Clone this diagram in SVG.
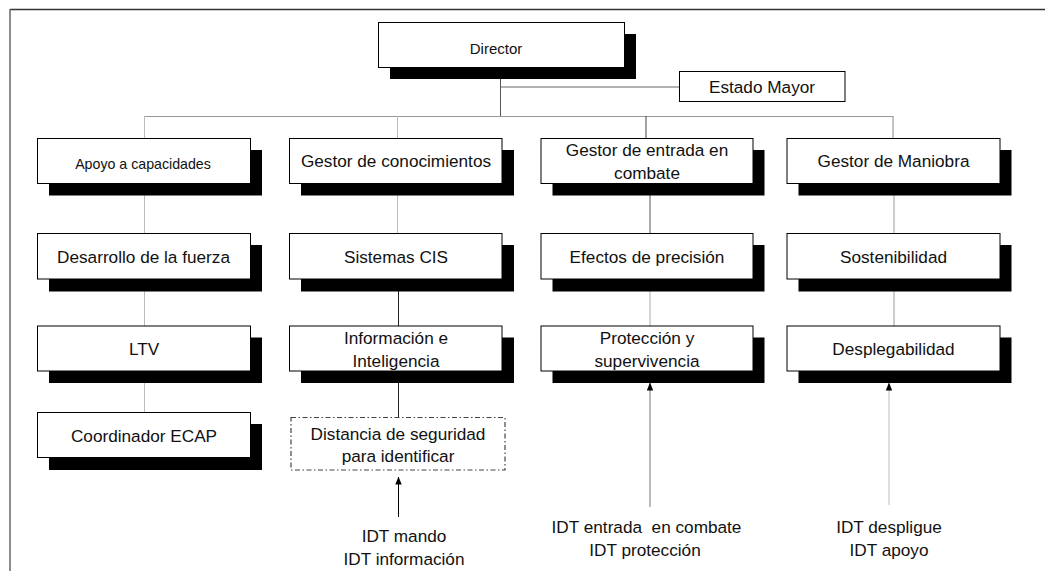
<svg xmlns="http://www.w3.org/2000/svg" width="1045" height="571" viewBox="0 0 1045 571">
<defs>
<style>
.box{fill:#fff;stroke:#000;stroke-width:1}
.sh{fill:#000}
.t{font-family:"Liberation Sans",Arial,sans-serif;font-size:17.2px;fill:#111;text-anchor:middle}
.ts{font-size:14.2px}
.c{fill:none;stroke-width:1}
</style>
<marker id="ah" viewBox="0 0 8 8" refX="7.5" refY="4" markerWidth="8" markerHeight="8" markerUnits="userSpaceOnUse" orient="auto">
<path d="M0,0.8 L8,4 L0,7.2 Z" fill="#000"/>
</marker>
</defs>
<rect width="1045" height="571" fill="#fff"/>
<g id="frame">
<line x1="10" y1="9.5" x2="1045" y2="9.5" stroke="#333" stroke-width="1.3"/>
<line x1="10" y1="9" x2="10" y2="571" stroke="#666" stroke-width="1.5"/>
</g>
<g id="connectors">
<line class="c" x1="500.5" y1="68" x2="500.5" y2="116" stroke="#555"/>
<line class="c" x1="500.5" y1="87" x2="680" y2="87" stroke="#666"/>
<line class="c" x1="144" y1="116.5" x2="893" y2="116.5" stroke="#999"/>
<line class="c" x1="144.5" y1="116" x2="144.5" y2="139" stroke="#bbb"/>
<line class="c" x1="397.5" y1="116" x2="397.5" y2="139" stroke="#bbb"/>
<line class="c" x1="646" y1="116" x2="646" y2="139" stroke="#444"/>
<line class="c" x1="893" y1="116" x2="893" y2="139" stroke="#888"/>
<line class="c" x1="144.5" y1="184" x2="144.5" y2="413" stroke="#bbb"/>
<line class="c" x1="397.5" y1="184" x2="397.5" y2="234" stroke="#bbb"/>
<line class="c" x1="398.5" y1="279" x2="398.5" y2="418" stroke="#222"/>
<line class="c" x1="650" y1="184" x2="650" y2="234" stroke="#555"/>
<line class="c" x1="650" y1="279" x2="650" y2="326" stroke="#aaa"/>
<line class="c" x1="894" y1="184" x2="894" y2="326" stroke="#999"/>
<line class="c" x1="398.5" y1="517" x2="398.5" y2="477" stroke="#000" marker-end="url(#ah)"/>
<line class="c" x1="650" y1="507" x2="650" y2="383" stroke="#777" stroke-width="1.3" marker-end="url(#ah)"/>
<line class="c" x1="889" y1="505" x2="889" y2="383" stroke="#bbb" stroke-width="1.3" marker-end="url(#ah)"/>
</g>
<g id="director">
<rect class="sh" x="390" y="34" width="246" height="45"/>
<rect class="box" x="378.5" y="22.5" width="246" height="45"/>
<text class="t ts" x="496" y="54" style="font-size:15px">Director</text>
</g>
<g id="estado-mayor">
<rect class="box" x="679.5" y="71.5" width="165.5" height="30"/>
<text class="t" x="762" y="92.5">Estado Mayor</text>
</g>
<g id="apoyo">
<rect class="sh" x="49" y="150" width="213" height="45.5"/>
<rect class="box" x="37.5" y="138.5" width="213" height="45"/>
<text class="t ts" x="143" y="169">Apoyo a capacidades</text>
</g>
<g id="gestor-conocimientos">
<rect class="sh" x="301" y="150" width="213" height="45.5"/>
<rect class="box" x="289.5" y="138.5" width="212.5" height="45"/>
<text class="t" x="396" y="167">Gestor de conocimientos</text>
</g>
<g id="gestor-entrada">
<rect class="sh" x="552.5" y="150" width="212" height="45.5"/>
<rect class="box" x="541" y="138.5" width="212" height="45"/>
<text class="t" x="647" y="156">Gestor de entrada en</text>
<text class="t" x="647" y="179">combate</text>
</g>
<g id="gestor-maniobra">
<rect class="sh" x="798.5" y="150" width="213" height="45.5"/>
<rect class="box" x="787" y="138.5" width="213" height="45"/>
<text class="t" x="893.5" y="167">Gestor de Maniobra</text>
</g>
<g id="desarrollo">
<rect class="sh" x="49" y="245" width="213" height="46.5"/>
<rect class="box" x="37.5" y="233.5" width="213" height="45.5"/>
<text class="t" x="143.5" y="263">Desarrollo de la fuerza</text>
</g>
<g id="sistemas-cis">
<rect class="sh" x="301" y="245" width="213" height="46.5"/>
<rect class="box" x="289.5" y="233.5" width="212.5" height="45.5"/>
<text class="t" x="396" y="263">Sistemas CIS</text>
</g>
<g id="efectos">
<rect class="sh" x="552.5" y="245" width="212" height="46.5"/>
<rect class="box" x="541" y="233.5" width="212" height="45.5"/>
<text class="t" x="647" y="263">Efectos de precisión</text>
</g>
<g id="sostenibilidad">
<rect class="sh" x="798.5" y="245" width="213" height="46.5"/>
<rect class="box" x="787" y="233.5" width="213" height="45.5"/>
<text class="t" x="893.5" y="263">Sostenibilidad</text>
</g>
<g id="ltv">
<rect class="sh" x="49" y="337.5" width="213" height="45.5"/>
<rect class="box" x="37.5" y="326" width="213" height="45"/>
<text class="t" x="144" y="355">LTV</text>
</g>
<g id="informacion">
<rect class="sh" x="301" y="337.5" width="213" height="45.5"/>
<rect class="box" x="289.5" y="326" width="212.5" height="45"/>
<text class="t" x="396" y="343.5">Información e</text>
<text class="t" x="396" y="367">Inteligencia</text>
</g>
<g id="proteccion">
<rect class="sh" x="552.5" y="337.5" width="212" height="45.5"/>
<rect class="box" x="541" y="326" width="212" height="45"/>
<text class="t" x="647" y="343.5">Protección y</text>
<text class="t" x="647" y="366.5">supervivencia</text>
</g>
<g id="desplegabilidad">
<rect class="sh" x="798.5" y="337.5" width="213" height="45.5"/>
<rect class="box" x="787" y="326" width="213" height="45"/>
<text class="t" x="893.5" y="355">Desplegabilidad</text>
</g>
<g id="coordinador">
<rect class="sh" x="49" y="424" width="213" height="46"/>
<rect class="box" x="37.5" y="412.5" width="213" height="45"/>
<text class="t" x="144" y="441.5">Coordinador ECAP</text>
</g>
<g id="distancia">
<rect x="291" y="417.5" width="214" height="52.5" fill="#fff" stroke="#444" stroke-width="1.2" stroke-dasharray="5 2.5 1.5 2.5"/>
<text class="t" x="398" y="439.5">Distancia de seguridad</text>
<text class="t" x="398" y="461.5">para identificar</text>
</g>
<g id="label-mando">
<text class="t" x="404" y="541.5">IDT mando</text>
<text class="t" x="404" y="565">IDT información</text>
</g>
<g id="label-entrada">
<text class="t" x="646.5" y="533" xml:space="preserve">IDT entrada  en combate</text>
<text class="t" x="645" y="556">IDT protección</text>
</g>
<g id="label-despliegue">
<text class="t" x="889" y="533">IDT despligue</text>
<text class="t" x="889" y="556">IDT apoyo</text>
</g>
</svg>
